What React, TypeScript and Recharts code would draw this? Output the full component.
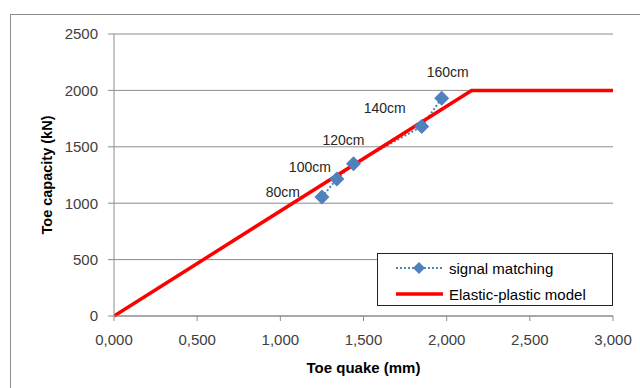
import { LineChart, Line, XAxis, YAxis, CartesianGrid, LabelList } from "recharts";

// signal matching results (toe quake mm, toe capacity kN)
const signalQuake = [1.25, 1.34, 1.44, 1.85, 1.97];
const signalCapacity = [1055, 1215, 1350, 1680, 1930];
const signalLabels = ["80cm", "100cm", "120cm", "140cm", "160cm"];

// elastic-plastic model
const modelQuake = [0, 2.15, 3.0];
const modelCapacity = [0, 2000, 2000];

const xTicks = [0, 0.5, 1, 1.5, 2, 2.5, 3];
const yTicks = [0, 500, 1000, 1500, 2000, 2500];

const signalData = signalQuake.map((q, i) => ({ q, cap: signalCapacity[i], label: signalLabels[i] }));
const modelData = modelQuake.map((q, i) => ({ q, cap: modelCapacity[i] }));

// label placement relative to each point (like manual Excel label positions)
const labelOffsets: Record<string, [number, number]> = {
  "80cm": [-39, -5],
  "100cm": [-27, -12],
  "120cm": [-10, -24],
  "140cm": [-37, -18],
  "160cm": [6, -26],
};

const FONT = "'Liberation Sans', Arial, sans-serif";
const BLUE = "#4F81BD";

const Diamond = (props: any) => {
  const { cx, cy } = props;
  if (cx == null || cy == null) return null;
  const r = 7.5;
  return <path d={`M${cx},${cy - r}L${cx + r},${cy}L${cx},${cy + r}L${cx - r},${cy}Z`} fill={BLUE} />;
};

const PointLabel = (props: any) => {
  const { x, y, value } = props;
  const off = labelOffsets[value] || [0, -12];
  return (
    <text x={x + off[0]} y={y + off[1]} textAnchor="middle" dominantBaseline="central"
      fontSize={14} fontFamily={FONT} fill="#262626">
      {value}
    </text>
  );
};

const YTitle = ({ viewBox }: any) => {
  const cx = 47;
  const cy = viewBox.y + viewBox.height / 2;
  return (
    <text x={cx} y={cy} transform={`rotate(-90 ${cx} ${cy})`} textAnchor="middle" dominantBaseline="central"
      fontSize={14.5} fontWeight="bold" fontFamily={FONT} fill="#000">
      Toe capacity (kN)
    </text>
  );
};

const XTitle = ({ viewBox }: any) => {
  const cx = viewBox.x + viewBox.width / 2;
  return (
    <text x={cx} y={367} textAnchor="middle" dominantBaseline="central"
      fontSize={15} fontWeight="bold" fontFamily={FONT} fill="#000">
      Toe quake (mm)
    </text>
  );
};

// legend drawn as a box over the plot, like the Excel legend
const LegendBox = () => (
  <div style={{ position: "absolute", left: 377, top: 253, width: 234, height: 51, border: "1px solid #222", background: "#fff" }}>
    <svg width={234} height={51} style={{ display: "block" }}>
      <line x1={18} y1={14} x2={65} y2={14} stroke={BLUE} strokeWidth={2} strokeDasharray="2 2" />
      <path d="M41,8L47,14L41,20L35,14Z" fill={BLUE} />
      <text x={71} y={14} dominantBaseline="central" fontSize={15} fontFamily={FONT}>signal matching</text>
      <line x1={18} y1={40} x2={65} y2={40} stroke="#FF0000" strokeWidth={3.5} />
      <text x={71} y={40} dominantBaseline="central" fontSize={15} fontFamily={FONT}>Elastic-plastic model</text>
    </svg>
  </div>
);

const fmtX = (v: number) => v.toFixed(3).replace(".", ",");

export default function App() {
  return (
    <div style={{ position: "absolute", left: 0, top: 0, width: 640, height: 388, overflow: "hidden", background: "#fff" }}>
      <div style={{ position: "absolute", left: 10, top: 14, width: 660, height: 420, border: "1px solid #8c8c8c" }} />
      <div style={{ position: "absolute", left: 0, top: 0 }}>
        <LineChart width={640} height={388} margin={{ top: 34, right: 27, left: 0, bottom: 0 }}>
          <CartesianGrid horizontal={true} vertical={false} stroke="#8c8c8c" />
          <XAxis
            type="number"
            dataKey="q"
            domain={[0, 3]}
            ticks={xTicks}
            tickFormatter={fmtX}
            height={72}
            tickSize={5}
            tickMargin={13}
            stroke="#8c8c8c"
            tick={{ fill: "#404040", fontSize: 15, fontFamily: FONT }}
            allowDataOverflow
            label={<XTitle />}
          />
          <YAxis
            type="number"
            dataKey="cap"
            domain={[0, 2500]}
            ticks={yTicks}
            width={114}
            tickSize={6}
            tickMargin={10}
            stroke="#8c8c8c"
            tick={{ fill: "#404040", fontSize: 15, fontFamily: FONT }}
            label={<YTitle />}
          />
          <Line
            data={signalData}
            dataKey="cap"
            name="signal matching"
            stroke={BLUE}
            strokeWidth={2}
            strokeDasharray="2 2"
            dot={<Diamond />}
            activeDot={false}
            isAnimationActive={false}
          >
            <LabelList dataKey="label" content={<PointLabel />} />
          </Line>
          <Line
            data={modelData}
            dataKey="cap"
            name="Elastic-plastic model"
            stroke="#FF0000"
            strokeWidth={3.5}
            dot={false}
            activeDot={false}
            isAnimationActive={false}
          />
        </LineChart>
      </div>
      <LegendBox />
    </div>
  );
}
